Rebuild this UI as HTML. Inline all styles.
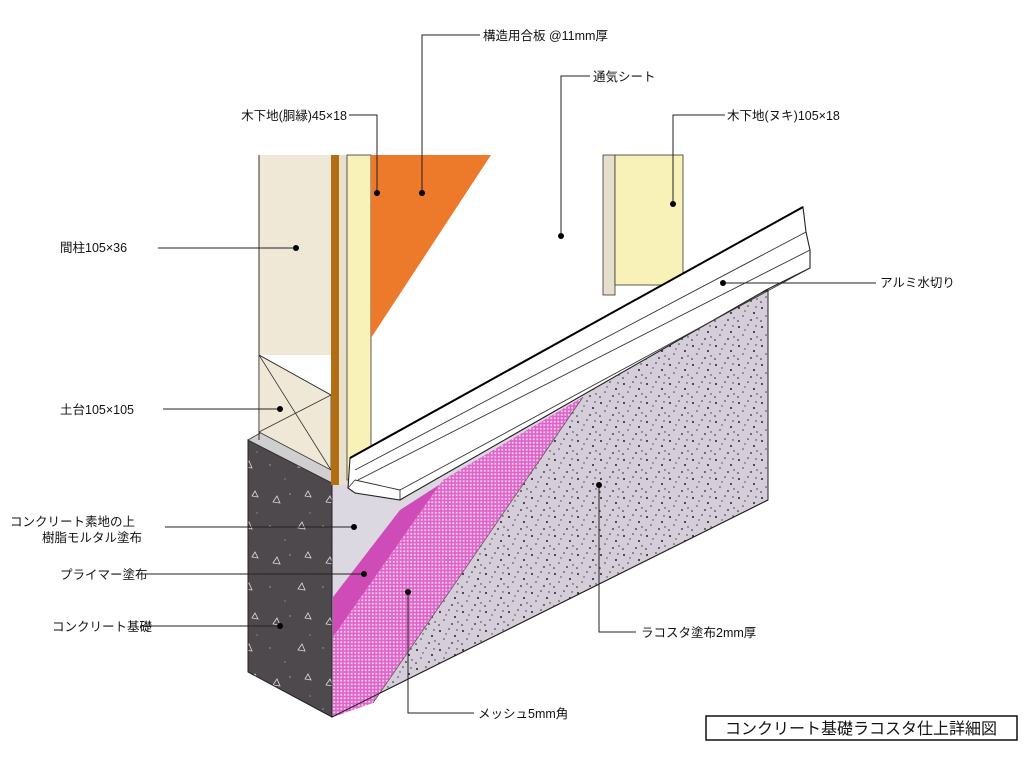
<!DOCTYPE html>
<html><head><meta charset="utf-8"><style>
html,body{margin:0;padding:0;background:#fff;}
svg{display:block}
text{font-family:"Liberation Sans","Noto Sans CJK JP",sans-serif;font-size:12.5px;fill:#111}
</style></head><body>
<svg width="1024" height="768" viewBox="0 0 1024 768" xmlns="http://www.w3.org/2000/svg">
<defs>
<pattern id="spk" width="23" height="19" patternUnits="userSpaceOnUse">
<rect width="23" height="19" fill="#d6cdda"/>
<circle cx="3" cy="4" r="1" fill="#222"/><circle cx="12" cy="2" r="0.8" fill="#333"/>
<circle cx="18" cy="9" r="1" fill="#222"/><circle cx="7" cy="12" r="0.8" fill="#444"/>
<circle cx="15" cy="16" r="0.9" fill="#222"/><circle cx="21" cy="14" r="0.7" fill="#333"/>
<circle cx="9" cy="7" r="0.7" fill="#444"/><circle cx="2" cy="17" r="0.8" fill="#222"/>
<circle cx="20" cy="3" r="0.7" fill="#333"/>
</pattern>
<pattern id="mesh" width="3.5" height="3.5" patternUnits="userSpaceOnUse">
<rect width="3.5" height="3.5" fill="#dd63c8"/>
<rect x="0.8" y="0.8" width="1.9" height="1.9" fill="#f5c8ee"/>
</pattern>
<pattern id="conc" width="53" height="61" patternUnits="userSpaceOnUse">
<rect width="53" height="61" fill="#4d494c"/>
<path d="M8 14l4-6 3 7z M33 40l4-6 3 7z M40 8l3-5 3 6z" fill="none" stroke="#ddd" stroke-width="0.8"/>
<circle cx="25" cy="6" r="0.7" fill="#aaa"/><circle cx="5" cy="38" r="0.7" fill="#aaa"/>
<circle cx="20" cy="52" r="0.6" fill="#aaa"/><circle cx="45" cy="25" r="0.6" fill="#aaa"/>
</pattern>
</defs>

<!-- foundation side face -->
<polygon points="332,470 768,290 768,500 332,717" fill="url(#spk)" stroke="#222" stroke-width="1"/>
<!-- light mortar -->
<polygon points="332,470 600,360 583,397 470,465 400,510 333,597" fill="#dcd8e2"/>
<!-- pink primer band -->
<polygon points="333,597 400,510 470,465 583,397 443,480 333,637" fill="#cf4bb7"/>
<!-- mesh -->
<polygon points="333,637 443,480 583,397 373,703 333,717" fill="url(#mesh)"/>
<line x1="583" y1="397" x2="373" y2="703" stroke="#555" stroke-width="0.7"/>
<line x1="332" y1="717" x2="768" y2="500" stroke="#222"/>
<!-- foundation front dark face -->
<polygon points="248,440 332,483 332,717 248,672" fill="url(#conc)" stroke="#222"/>
<!-- top of foundation -->
<polygon points="248,440 262,432 348,476 332,483" fill="#cfcfcf" stroke="#333" stroke-width="0.8"/>

<!-- left column 間柱 -->
<rect x="259" y="155" width="72" height="200" fill="#efe8d6"/>
<line x1="259" y1="155" x2="259" y2="440" stroke="#333"/>
<!-- 土台 -->
<polygon points="259,355 331,395 331,470 259,432" fill="#efe8d6" stroke="#333" stroke-width="0.8"/>
<path d="M259,355 L331,470 M331,395 L259,432 M259,355 L331,395" stroke="#333" fill="none" stroke-width="0.8"/>
<!-- brown strip -->
<rect x="331" y="155" width="8" height="330" fill="#b36d12"/>
<rect x="339" y="155" width="8" height="330" fill="#e8e0cc"/>
<rect x="347" y="155" width="24" height="325" fill="#f8f1b8" stroke="#333" stroke-width="0.8"/>
<!-- orange plywood -->
<polygon points="371,155 491,155 371,338" fill="#ec7a2a"/>

<!-- right column -->
<rect x="603" y="155" width="12" height="140" fill="#e6dfcc" stroke="#333" stroke-width="0.8"/>
<rect x="615" y="155" width="68" height="130" fill="#f8f1b8" stroke="#333" stroke-width="0.8"/>

<!-- flashing -->
<polygon points="350,458 803,207 806,232 810,250 810,268 766,290 405,497 400,500 355,493 348,488" fill="#fff" stroke="#222" stroke-width="1.1"/>
<line x1="350" y1="458" x2="803" y2="207" stroke="#000" stroke-width="2"/>
<path d="M355,470 L806,232 M358,480 L810,250 M400,490 L810,268 M400,490 L400,500 M355,480 L400,490 M348,488 L355,480" stroke="#333" fill="none" stroke-width="0.9"/>

<!-- leaders -->
<g stroke="#222" stroke-width="1" fill="none">
<path d="M480,35 H422 V193"/>
<path d="M590,76 H561 V236"/>
<path d="M349,115 H377 V193"/>
<path d="M725,115 H673 V204"/>
<path d="M158,248 H296"/>
<path d="M876,283 H723"/>
<path d="M163,409 H280"/>
<path d="M165,527 H354"/>
<path d="M140,574 H364"/>
<path d="M140,626 H280"/>
<path d="M599,485 V632 H636"/>
<path d="M408,592 V713 H474"/>
</g>
<g fill="#000">
<circle cx="422" cy="193" r="3"/><circle cx="561" cy="236" r="3"/><circle cx="377" cy="193" r="3"/>
<circle cx="673" cy="204" r="3"/><circle cx="296" cy="248" r="3"/><circle cx="723" cy="283" r="3"/>
<circle cx="280" cy="409" r="3"/><circle cx="354" cy="527" r="3"/><circle cx="364" cy="574" r="3"/>
<circle cx="280" cy="626" r="3"/><circle cx="599" cy="485" r="3"/><circle cx="408" cy="592" r="3"/>
</g>

<text x="483" y="40">構造用合板 @11mm厚</text>
<text x="593" y="81">通気シート</text>
<text x="347" y="120" text-anchor="end">木下地(胴縁)45×18</text>
<text x="727" y="120">木下地(ヌキ)105×18</text>
<text x="60" y="252">間柱105×36</text>
<text x="880" y="287">アルミ水切り</text>
<text x="60" y="414">土台105×105</text>
<text x="10" y="526">コンクリート素地の上</text>
<text x="42" y="542">樹脂モルタル塗布</text>
<text x="60" y="579">プライマー塗布</text>
<text x="52" y="631">コンクリート基礎</text>
<text x="641" y="637">ラコスタ塗布2mm厚</text>
<text x="478" y="718">メッシュ5mm角</text>
<rect x="706" y="716" width="311" height="24" fill="#fff" stroke="#111" stroke-width="1.5"/>
<text x="861" y="734" text-anchor="middle" style="font-size:16px">コンクリート基礎ラコスタ仕上詳細図</text>
</svg>
</body></html>
